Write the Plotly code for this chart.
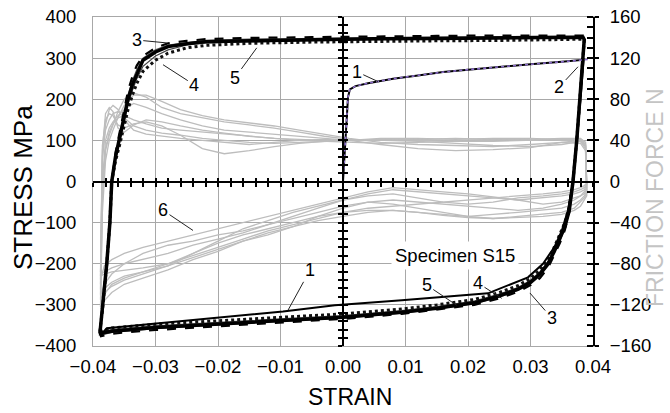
import plotly.graph_objects as go

# ---------------- data ----------------
# hysteresis loops: shared strain arrays
strain_up = [-0.0389, -0.0384, -0.0378, -0.0373, -0.0370, -0.0364, -0.0358, -0.0351, -0.0344, -0.0337,
             -0.0330, -0.0320, -0.0300, -0.0280, -0.0250, -0.0220, -0.0150, -0.0050, 0.0050, 0.0150,
             0.0250, 0.0350, 0.0384, 0.0386]
strain_down = [0.0384, 0.0379, 0.0374, 0.0368, 0.0362, 0.0355, 0.0347, 0.0338, 0.0328, 0.0315,
               0.0300, 0.0280, 0.0250, 0.0210, 0.0150, 0.0094, 0.0000, -0.0100, -0.0200, -0.0300,
               -0.0370, -0.0384, -0.0389]

# loop 3 (dashed, outer)
loop3_up = [-375, -300, -200, -100, 0, 70, 115, 170, 220, 255, 282, 305, 325, 336, 342, 346, 349, 351, 353, 354, 355, 355, 355, 350]
loop3_down = [300, 200, 100, 0, -75, -118, -150, -180, -210, -235, -252, -268, -284, -300, -312, -322, -334, -343, -352, -361, -370, -374, -377]
# loop 4 (thick solid)
loop4_up = [-370, -300, -200, -100, 0, 60, 100, 150, 200, 235, 262, 295, 315, 328, 335, 340, 342, 345, 347, 348, 349, 350, 351, 345]
loop4_down = [300, 200, 100, 0, -70, -110, -140, -170, -200, -225, -245, -262, -278, -295, -308, -318, -330, -338, -347, -355, -364, -368, -372]
# loop 5 (dotted, inner)
loop5_up = [-365, -300, -200, -100, 0, 50, 85, 130, 175, 210, 238, 268, 295, 312, 325, 331, 336, 339, 341, 342, 343, 344, 346, 344]
loop5_down = [300, 200, 100, 0, -62, -100, -130, -160, -190, -215, -236, -253, -270, -287, -300, -310, -322, -330, -339, -347, -356, -362, -366]
# further thin loops
loopA_up = [-368, -300, -200, -100, 0, 55, 92, 140, 188, 222, 250, 280, 305, 320, 332, 337, 340, 343, 345, 346, 347, 348, 349, 347]
loopA_down = [300, 200, 100, 0, -66, -105, -135, -165, -195, -220, -240, -258, -274, -291, -304, -314, -326, -334, -343, -351, -360, -365, -369]
loopB_up = [-372, -300, -200, -100, 0, 65, 108, 160, 210, 245, 272, 300, 320, 332, 338, 343, 346, 348, 350, 351, 352, 353, 353, 348]
loopB_down = [300, 200, 100, 0, -72, -114, -145, -175, -205, -230, -249, -265, -281, -297, -310, -320, -332, -340, -349, -358, -367, -371, -374]

# curve 1: first loading and first compression branch
c1_strain = [0.0, 0.0002, 0.0005, 0.0008, 0.0011, 0.0020, 0.0040, 0.0080, 0.0120, 0.0160, 0.0200, 0.0250,
             0.0300, 0.0350, 0.0385, 0.0380, 0.0374, 0.0368, 0.0360, 0.0350, 0.0338, 0.0320, 0.0296,
             0.0232, 0.0094, -0.0013, -0.0096, -0.0202, -0.0298, -0.0378, -0.0384]
c1_stress = [0, 60, 150, 205, 224, 232, 239, 250, 258, 266, 272, 279, 285, 291, 296, 200, 100, 0, -70,
             -120, -160, -200, -233, -272, -289, -301, -316, -331, -345, -357, -367]
c1m_strain = [0.0, 0.0002, 0.0005, 0.0008, 0.0011, 0.0020, 0.0040, 0.0080, 0.0120, 0.0160, 0.0200, 0.0250,
              0.0300, 0.0350, 0.0395]
c1m_stress = [0, 60, 150, 205, 224, 232, 239, 250, 258, 266, 272, 279, 285, 291, 297]

# friction force loops (N): tension stroke and compression stroke
fr_strain_t = [-0.0388, -0.0385, -0.0380, -0.0374, -0.0368, -0.0360, -0.0350, -0.0335, -0.0315, -0.0290,
               -0.0260, -0.0225, -0.0190, -0.0150, -0.0110, -0.0070, -0.0030, 0.0010, 0.0060, 0.0120,
               0.0180, 0.0240, 0.0300, 0.0350, 0.0380, 0.0388]
fr_strain_c = [0.0390, 0.0386, 0.0380, 0.0370, 0.0350, 0.0320, 0.0280, 0.0240, 0.0200, 0.0160,
               0.0120, 0.0080, 0.0040, 0.0000, -0.0040, -0.0080, -0.0120, -0.0160, -0.0200, -0.0240,
               -0.0280, -0.0320, -0.0350, -0.0370, -0.0382, -0.0388]
fr1_t = [-95, 30, 66, 72, 68, 52, 48, 55, 60, 58, 54, 50, 47, 44, 42, 41, 40, 40, 40, 41, 40, 41, 40, 41, 41, 38]
fr1_c = [-8, -12, -14, -16, -20, -22, -18, -15, -12, -10, -8, -6, -10, -16, -22, -28, -34, -40, -46, -52, -58, -64, -70, -76, -82, -96]
fr2_t = [-105, 20, 55, 70, 74, 70, 60, 50, 46, 44, 42, 40, 38, 36, 38, 40, 41, 40, 42, 42, 41, 42, 42, 41, 40, 36]
fr2_c = [-3, -6, -8, -10, -12, -14, -16, -20, -22, -20, -16, -12, -14, -18, -24, -30, -38, -46, -58, -70, -82, -88, -92, -98, -104, -108]
fr3_t = [-115, -20, 30, 45, 55, 68, 80, 86, 82, 72, 66, 62, 58, 55, 52, 48, 44, 41, 40, 39, 37, 35, 34, 36, 39, 34]
fr3_c = [-10, -14, -18, -22, -26, -28, -30, -32, -34, -30, -26, -22, -20, -24, -30, -36, -42, -48, -52, -58, -62, -70, -80, -90, -100, -112]
fr4_t = [-122, -30, 20, 40, 50, 62, 74, 84, 84, 78, 70, 64, 60, 57, 54, 50, 46, 42, 38, 36, 35, 34, 36, 38, 37, 30]
fr4_c = [-14, -18, -24, -28, -32, -34, -35, -36, -34, -32, -30, -28, -28, -30, -34, -40, -46, -52, -60, -70, -80, -88, -94, -100, -110, -120]
fr5_t = [-88, 35, 60, 66, 64, 55, 52, 56, 58, 54, 45, 32, 27, 30, 34, 37, 39, 40, 40, 41, 42, 41, 41, 42, 42, 38]
fr5_c = [-2, -4, -6, -8, -10, -12, -14, -16, -18, -20, -22, -24, -26, -30, -36, -42, -48, -56, -64, -72, -80, -84, -86, -88, -90, -92]
fr6_t = [-100, 0, 40, 52, 58, 64, 70, 76, 72, 66, 60, 54, 50, 48, 46, 44, 42, 40, 36, 32, 30, 31, 33, 38, 40, 35]
fr6_c = [-6, -10, -14, -18, -22, -26, -28, -26, -24, -22, -20, -18, -20, -26, -34, -44, -52, -58, -66, -74, -82, -90, -96, -102, -108, -114]
fr7_t = [-110, -10, 32, 48, 56, 62, 64, 60, 56, 52, 50, 48, 46, 44, 42, 40, 39, 38, 37, 38, 39, 40, 41, 40, 39, 32]
fr7_c = [-12, -16, -20, -26, -30, -32, -34, -36, -35, -33, -30, -28, -30, -34, -38, -44, -50, -58, -68, -76, -86, -94, -100, -108, -116, -124]
fr8_t = [-92, 25, 50, 60, 66, 68, 62, 54, 50, 47, 45, 42, 40, 38, 37, 38, 39, 40, 41, 40, 39, 39, 40, 41, 40, 36]
fr8_c = [-4, -8, -10, -12, -14, -16, -18, -16, -14, -12, -10, -8, -12, -18, -26, -34, -42, -50, -56, -62, -70, -76, -80, -84, -88, -90]

x_ticks = [-0.04, -0.03, -0.02, -0.01, 0.0, 0.01, 0.02, 0.03, 0.04]
stress_ticks = [-400, -300, -200, -100, 0, 100, 200, 300, 400]
force_ticks = [-160, -120, -80, -40, 0, 40, 80, 120, 160]

labels = [
    ("3", -0.0330, 344, -0.0282, 337),
    ("4", -0.0238, 235, -0.0288, 284),
    ("5", -0.0173, 252, -0.0138, 325),
    ("1", 0.0022, 267, 0.0056, 243),
    ("2", 0.0346, 230, 0.0376, 279),
    ("6", -0.0288, -70, -0.0240, -119),
    ("1", -0.0053, -216, -0.0088, -313),
    ("5", 0.0134, -252, 0.0182, -301),
    ("4", 0.0216, -247, 0.0254, -284),
    ("3", 0.0334, -332, 0.0299, -271),
]

# ---------------- figure ----------------
FONT = "Liberation Sans, Arial, sans-serif"
fig = go.Figure()

fr_loops = [(fr1_t, fr1_c), (fr2_t, fr2_c), (fr3_t, fr3_c), (fr4_t, fr4_c),
            (fr5_t, fr5_c), (fr6_t, fr6_c), (fr7_t, fr7_c), (fr8_t, fr8_c)]
for ft, fc in fr_loops:
    fig.add_trace(go.Scatter(x=fr_strain_t + fr_strain_c, y=ft + fc, mode="lines",
                             line=dict(color="#bdbdbd", width=1.3), yaxis="y", showlegend=False,
                             hoverinfo="skip"))

def loop(up, down, color, width, dash, ya):
    fig.add_trace(go.Scatter(x=strain_up + strain_down, y=up + down, mode="lines",
                             line=dict(color=color, width=width, dash=dash), xaxis="x", yaxis=ya,
                             showlegend=False, hoverinfo="skip"))

# stress traces are spread over the (identical-range) stress axes so every axis carries data
loop(loopA_up, loopA_down, "#444444", 1.2, "solid", "y3")
loop(loopB_up, loopB_down, "#555555", 1.2, "solid", "y3")
loop(loop5_up, loop5_down, "#111111", 3, "dot", "y4")
loop(loop4_up, loop4_down, "#000000", 3.5, "solid", "y4")
loop(loop3_up, loop3_down, "#000000", 2.2, "dash", "y4")

fig.add_trace(go.Scatter(x=c1_strain, y=c1_stress, mode="lines", line=dict(color="black", width=2),
                         xaxis="x2", yaxis="y2", showlegend=False, hoverinfo="skip"))
fig.add_trace(go.Scatter(x=c1m_strain, y=c1m_stress, mode="lines",
                         line=dict(color="#8a6cc8", width=1.6, dash="dot"),
                         xaxis="x3", yaxis="y2", showlegend=False, hoverinfo="skip"))

for txt, tx, ty, px, py in labels:
    fig.add_annotation(x=px, y=py, ax=tx, ay=ty, xref="x", yref="y2", axref="x", ayref="y2",
                       text=txt, showarrow=True, arrowhead=0, arrowwidth=1, arrowcolor="#222222",
                       font=dict(family=FONT, size=18, color="black"), standoff=0, startstandoff=0)

fig.add_annotation(x=0.0179, y=-179, xref="x", yref="y2", text="Specimen S15", showarrow=False,
                   font=dict(family=FONT, size=18.5, color="black"), bgcolor="white", borderpad=3)

# axis titles
title_kw = dict(xref="paper", yref="paper", showarrow=False, xanchor="center", yanchor="middle")
fig.add_annotation(x=-0.14, y=0.48, text="STRESS MPa", textangle=-90,
                   font=dict(family=FONT, size=26, color="black"), **title_kw)
fig.add_annotation(x=1.124, y=0.45, text="FRICTION FORCE N", textangle=-90,
                   font=dict(family=FONT, size=23, color="#c4c4c4"), **title_kw)
fig.add_annotation(x=0.514, y=-0.155, text="STRAIN",
                   font=dict(family=FONT, size=23, color="black"), **title_kw)

grid = "#a8a8a8"
centre = dict(showticklabels=False, showgrid=False, zeroline=False, automargin=False,
              tickwidth=1.5, tickcolor="black", ticklen=4)
fig.update_layout(
    width=670, height=413,
    margin=dict(l=93, r=77, t=17, b=67, autoexpand=False),
    paper_bgcolor="white", plot_bgcolor="white",
    font=dict(family=FONT, size=18, color="black"),
    xaxis=dict(range=[-0.04, 0.04], tickvals=x_ticks, tickformat=".2f", showgrid=True,
               gridcolor=grid, gridwidth=1, zeroline=False, showline=True, linecolor=grid,
               linewidth=1, mirror=True, ticks="", ticklen=0, automargin=False,
               ticklabelstandoff=4, tickfont=dict(family=FONT, size=18.5, color="black")),
    yaxis=dict(range=[-160, 160], tickvals=force_ticks, side="right", showgrid=False,
               zeroline=False, showline=True, linecolor="black", linewidth=2, automargin=False,
               ticks="outside", ticklen=4, tickwidth=1.5, tickcolor="black", ticklabelstandoff=7,
               minor=dict(dtick=10, tick0=0, ticks="inside", ticklen=6, tickwidth=1.5, tickcolor="black"),
               tickfont=dict(family=FONT, size=18.5, color="black")),
    yaxis2=dict(range=[-400, 400], tickvals=stress_ticks, overlaying="y", side="left",
                showgrid=True, gridcolor=grid, gridwidth=1, zeroline=False, showline=True,
                linecolor=grid, linewidth=1, ticks="", automargin=False, ticklabelstandoff=12,
                tickfont=dict(family=FONT, size=18.5, color="black")),
    # centre axes through the origin with crossing tick marks
    xaxis2=dict(range=[-0.04, 0.04], overlaying="x", anchor="free", position=0.5, dtick=0.002, tick0=0,
                showline=True, linecolor="black", linewidth=2, ticks="outside", **centre),
    xaxis3=dict(range=[-0.04, 0.04], overlaying="x", anchor="free", position=0.5, dtick=0.002, tick0=0,
                showline=False, ticks="inside", **centre),
    yaxis3=dict(range=[-400, 400], overlaying="y", anchor="free", position=0.5, dtick=20, tick0=0,
                showline=True, linecolor="black", linewidth=2, ticks="outside", **centre),
    yaxis4=dict(range=[-400, 400], overlaying="y", anchor="free", position=0.5, dtick=20, tick0=0,
                showline=False, ticks="inside", **centre),
)

fig.write_html("out.html", post_script="document.body.style.margin='0';",
               config={"displayModeBar": False})
